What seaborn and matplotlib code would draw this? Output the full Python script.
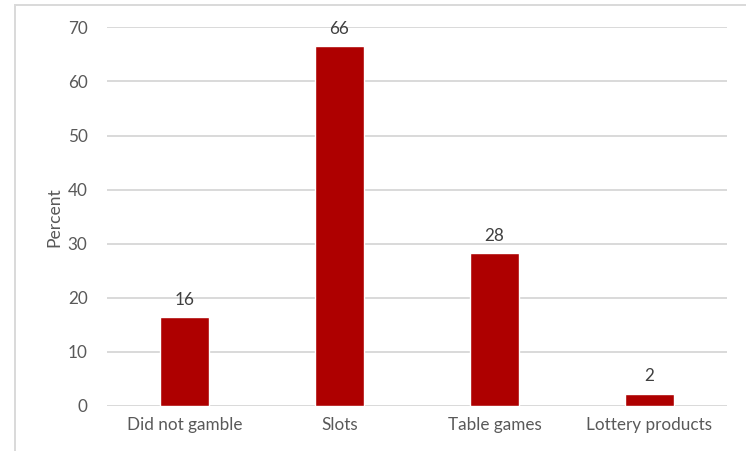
import matplotlib
matplotlib.use("Agg")
import matplotlib.pyplot as plt
import seaborn as sns
import pandas as pd
from matplotlib.patches import Rectangle

categories = ["Did not gamble", "Slots", "Table games", "Lottery products"]
values = [16.4, 66.5, 28.2, 2.2]
labels = ["16", "66", "28", "2"]
yticks = [0, 10, 20, 30, 40, 50, 60, 70]

sns.set_theme(style="white")
plt.rcParams["font.family"] = ["Lato", "DejaVu Sans"]

df = pd.DataFrame({"cat": categories, "val": values})

fig = plt.figure(figsize=(7.46, 4.51), dpi=100)
ax = fig.add_axes([107/746, 1-406/451, (727-107)/746, (406-27.3)/451])

sns.barplot(data=df, x="cat", y="val", color="#AE0000", width=0.315,
            saturation=1, ax=ax, zorder=3)

ax.set_ylim(0, 70)
ax.set_yticks(yticks)
ax.set_yticklabels([str(t) for t in yticks])
ax.grid(axis="y", color="#d9d9d9", linewidth=1.4, zorder=0)
ax.set_axisbelow(True)
for s in ax.spines.values():
    s.set_visible(False)
ax.tick_params(axis="both", length=0, labelsize=12.3, colors="#595959")
ax.tick_params(axis="y", pad=14)
ax.tick_params(axis="x", pad=8)
ax.set_xlabel("")
ax.set_ylabel("Percent", fontsize=12.6, color="#595959", labelpad=4)

for p, lab in zip(ax.patches, labels):
    ax.annotate(lab, (p.get_x() + p.get_width()/2, p.get_height()),
                xytext=(0, 7), textcoords="offset points",
                ha="center", va="bottom", fontsize=12.3, color="#404040")

fig.patches.append(Rectangle((15/746, -0.1), 1.0, 1.1 - 5/451,
                             transform=fig.transFigure, fill=False,
                             edgecolor="#d9d9d9", linewidth=1.4))

fig.savefig("out.png", dpi=100, facecolor="white")
